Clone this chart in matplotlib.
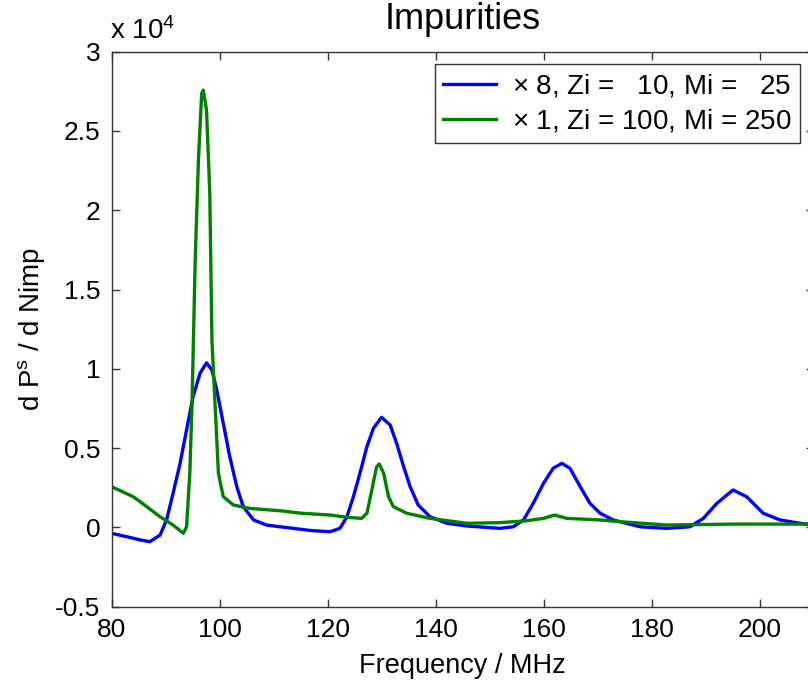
import matplotlib
matplotlib.use("Agg")
import matplotlib.pyplot as plt

plt.rcParams['font.family'] = ['Liberation Sans', 'DejaVu Sans']
plt.rcParams['mathtext.fontset'] = 'custom'
plt.rcParams['mathtext.rm'] = 'Liberation Sans'
plt.rcParams['mathtext.it'] = 'Liberation Sans'

# Blue series (x 8, Zi = 10, Mi = 25), values in units of 1e4
blue_f = [80, 83, 85.3, 87.1, 89.0, 90.2, 91.4, 92.7, 93.9, 95.1, 96.4, 97.6, 98.6, 99.5,
          100.7, 101.9, 103.2, 104.4, 106.3, 108.7, 111.2, 113.7, 117, 120.5, 122.3, 123.6,
          124.8, 126.0, 127.3, 128.5, 130.0, 131.6, 132.8, 134.1, 135.3, 136.8, 139.0, 142.1,
          145.8, 151.9, 154.4, 156.3, 158.1, 160.0, 161.8, 163.4, 164.9, 166.8, 168.6, 170.5,
          172.9, 177.9, 182.8, 187.1, 189.6, 192.1, 195.1, 197.6, 200.7, 203.8, 207.5, 210]
blue_v = [-0.037, -0.06, -0.079, -0.09, -0.048, 0.047, 0.215, 0.404, 0.614, 0.824, 0.972,
          1.038, 0.992, 0.866, 0.656, 0.446, 0.257, 0.131, 0.047, 0.015, 0.004, -0.006, -0.02,
          -0.027, -0.006, 0.067, 0.194, 0.341, 0.509, 0.625, 0.694, 0.646, 0.530, 0.383, 0.257,
          0.141, 0.067, 0.026, 0.009, -0.006, 0.004, 0.047, 0.152, 0.278, 0.373, 0.404, 0.373,
          0.257, 0.152, 0.089, 0.047, 0.004, -0.006, 0.004, 0.057, 0.152, 0.236, 0.194, 0.089,
          0.047, 0.026, 0.015]

# Green series (x 1, Zi = 100, Mi = 250)
green_f = [80, 84, 85.3, 89.0, 91.4, 93.3, 93.9, 94.5, 94.9, 95.5, 96.1, 96.7, 97.0, 97.6,
           98.2, 98.6, 99.2, 99.8, 100.7, 102.6, 105.6, 111.2, 115, 120.5, 123.6, 126.3, 127.3,
           128.2, 129.1, 129.6, 130.4, 131.3, 132.2, 134.7, 139.0, 145.8, 151.9, 156.9, 160.0,
           162.1, 164.3, 170.5, 174.2, 182.8, 195.1, 210]
green_v = [0.257, 0.194, 0.162, 0.067, 0.015, -0.037, 0.004, 0.341, 0.761, 1.686, 2.317, 2.737,
           2.758, 2.63, 2.107, 1.18, 0.761, 0.341, 0.194, 0.141, 0.12, 0.105, 0.09, 0.078,
           0.064, 0.057, 0.089, 0.236, 0.383, 0.40, 0.341, 0.194, 0.131, 0.089, 0.057, 0.026,
           0.03, 0.042, 0.057, 0.078, 0.057, 0.047, 0.036, 0.015, 0.021, 0.021]

blue_label = r'$\times$ 8, Zi =   10, Mi =   25'
green_label = r'$\times$ 1, Zi = 100, Mi = 250'

x_ticks = [80, 100, 120, 140, 160, 180, 200]
y_ticks = [-0.5, 0, 0.5, 1, 1.5, 2, 2.5, 3]
y_tick_labels = ['-0.5', '0', '0.5', '1', '1.5', '2', '2.5', '3']

fig = plt.figure(figsize=(8.08, 6.86), dpi=100)
ax = fig.add_axes([111.5 / 808, 1 - 606.7 / 686, 702 / 808, 555 / 686])

ax.plot(blue_f, blue_v, color='#0000ff', lw=2.4, label=blue_label)
ax.plot(green_f, green_v, color='#008000', lw=2.4, label=green_label)

ax.set_xlim(80, 210)
ax.set_ylim(-0.5, 3)
ax.set_xticks(x_ticks)
ax.set_xticklabels([str(t) for t in x_ticks])
ax.set_yticks(y_ticks)
ax.set_yticklabels(y_tick_labels)
ax.tick_params(direction='in', top=True, right=True, labelsize=19, length=6,
               width=1, color='#333333', pad=8)
for s in ax.spines.values():
    s.set_color('#333333')
    s.set_linewidth(1)

ax.set_xlabel('Frequency / MHz', fontsize=19.5, labelpad=8)
ax.set_ylabel(r'd P$^{\mathrm{s}}$ / d Nimp', fontsize=20, labelpad=6)
ax.set_title('Impurities', fontsize=26, pad=16)

fig.text(110 / 808, 1 - 39.3 / 686, r'x 10$^{4}$', fontsize=20, va='baseline', ha='left')

leg = ax.legend(loc='upper right', bbox_to_anchor=((800 - 111.5) / 702, (606.7 - 64) / 555),
                fontsize=20, frameon=True, fancybox=False, edgecolor='black',
                handlelength=1.9, borderpad=0.3, labelspacing=0.3, handletextpad=0.6,
                borderaxespad=0)
leg.get_frame().set_linewidth(1)

fig.savefig('out.png', dpi=100)
